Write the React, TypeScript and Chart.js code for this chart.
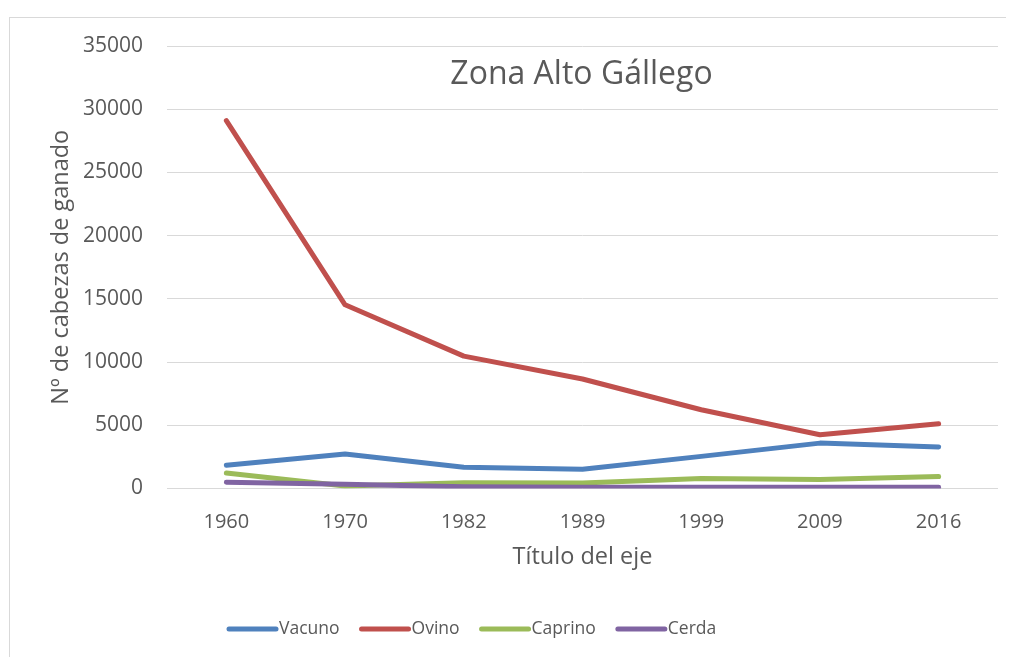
import React, { useEffect, useRef } from "react";
import { Chart, registerables } from "chart.js";

Chart.register(...registerables);

const years = ["1960", "1970", "1982", "1989", "1999", "2009", "2016"];
const vacuno = [1840, 2730, 1680, 1520, 2540, 3590, 3280];
const ovino = [29100, 14530, 10470, 8660, 6230, 4250, 5120];
const caprino = [1230, 200, 450, 430, 800, 720, 950];
const cerda = [500, 330, 130, 100, 90, 90, 100];

const seriesNames = ["Vacuno", "Ovino", "Caprino", "Cerda"];
const seriesColors = ["#4f81bd", "#c0504d", "#9bbb59", "#8064a2"];

const chartTitle = "Zona Alto Gállego";
const xTitle = "Título del eje";
const yTitle = "Nº de cabezas de ganado";

const FONT = "'Open Sans', sans-serif";
const TEXT = "#595959";

export default function App() {
  const ref = useRef<HTMLCanvasElement | null>(null);

  useEffect(() => {
    document.body.style.overflow = "hidden";
    const canvas = ref.current;
    if (!canvas) return;

    const titlePlugin = {
      id: "innerTitle",
      afterDraw(chart: any) {
        const { ctx, chartArea } = chart;
        ctx.save();
        ctx.font = `32px ${FONT}`;
        ctx.fillStyle = TEXT;
        ctx.textAlign = "center";
        ctx.textBaseline = "middle";
        ctx.fillText(chartTitle, (chartArea.left + chartArea.right) / 2 - 1, 57);
        ctx.restore();
      },
    };

    const legendPlugin = {
      id: "customLegend",
      afterDraw(chart: any) {
        const { ctx } = chart;
        ctx.save();
        ctx.font = `17.5px ${FONT}`;
        ctx.textBaseline = "middle";
        ctx.textAlign = "left";
        let x = 219;
        const y = 611;
        seriesNames.forEach((name, i) => {
          ctx.strokeStyle = seriesColors[i];
          ctx.lineWidth = 5;
          ctx.lineCap = "round";
          ctx.beginPath();
          ctx.moveTo(x, y);
          ctx.lineTo(x + 47, y);
          ctx.stroke();
          ctx.fillStyle = TEXT;
          ctx.fillText(name, x + 50, y);
          x = x + 50 + ctx.measureText(name).width + 22;
        });
        ctx.restore();
      },
    };

    const data = [vacuno, ovino, caprino, cerda];
    const chart = new Chart(canvas, {
      type: "line",
      data: {
        labels: years,
        datasets: seriesNames.map((name, i) => ({
          label: name,
          data: data[i],
          borderColor: seriesColors[i],
          backgroundColor: seriesColors[i],
          borderWidth: 5,
          pointRadius: 0,
          tension: 0,
          borderCapStyle: "round" as const,
          borderJoinStyle: "round" as const,
          order: 3 - i,
        })),
      },
      options: {
        animation: false,
        responsive: false,
        layout: { padding: { top: 28, left: 0, right: 16, bottom: 68.5 } },
        plugins: {
          legend: { display: false },
          title: { display: false },
          tooltip: { enabled: false },
        },
        scales: {
          x: {
            offset: true,
            grid: { display: false, drawTicks: false },
            border: { display: false },
            ticks: { color: TEXT, font: { family: FONT, size: 20 }, padding: 22 },
            title: {
              display: true,
              text: xTitle,
              color: TEXT,
              font: { family: FONT, size: 23.5 },
              padding: { top: 0, bottom: 17 },
            },
            afterFit(scale: any) {
              scale.height = 100;
            },
          },
          y: {
            min: 0,
            max: 35000,
            grid: { color: "#d9d9d9", lineWidth: 1, drawTicks: false },
            border: { display: false },
            ticks: {
              stepSize: 5000,
              color: TEXT,
              font: { family: FONT, size: 21 },
              padding: 24,
              callback: (v: any) => String(v),
            },
            title: {
              display: true,
              text: yTitle,
              color: TEXT,
              font: { family: FONT, size: 23.5 },
              padding: { top: 37, bottom: 0 },
            },
            afterFit(scale: any) {
              scale.width = 157;
              scale.paddingTop = 10;
              scale.paddingBottom = 10;
            },
          },
        },
      },
      plugins: [titlePlugin, legendPlugin],
    });
    return () => chart.destroy();
  }, []);

  return (
    <div style={{ paddingTop: 9 }}>
      <div
        style={{
          marginLeft: 1,
          borderTop: "1px solid #d9d9d9",
          borderLeft: "1px solid #d9d9d9",
          width: 1004,
          height: 639,
        }}
      >
        <canvas ref={ref} width={1004} height={639} style={{ display: "block" }} />
      </div>
    </div>
  );
}
